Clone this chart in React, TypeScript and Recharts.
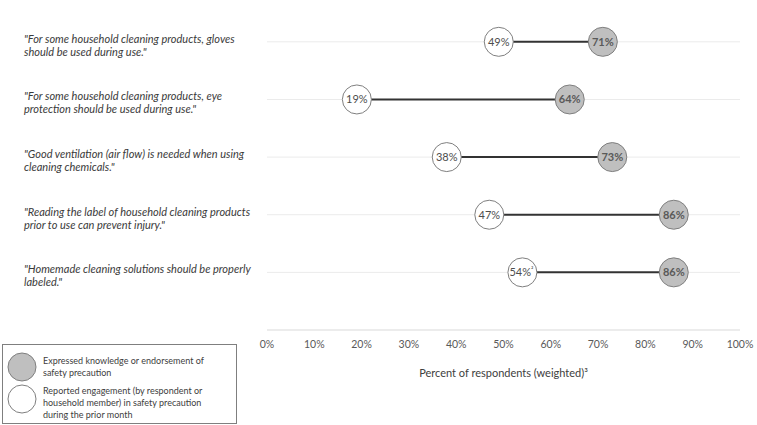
import { ComposedChart, Scatter, XAxis, YAxis } from 'recharts';

const statements = [
  ['"For some household cleaning products, gloves', 'should be used during use."'],
  ['"For some household cleaning products, eye', 'protection should be used during use."'],
  ['"Good ventilation (air flow) is needed when using', 'cleaning chemicals."'],
  ['"Reading the label of household cleaning products', 'prior to use can prevent injury."'],
  ['"Homemade cleaning solutions should be properly', 'labeled."'],
];
const knowledge = [71, 64, 73, 86, 86];
const engagement = [49, 19, 38, 47, 54];
const engagementNotes = ['', '', '', '', '²'];
const xTicks = [0, 10, 20, 30, 40, 50, 60, 70, 80, 90, 100];
const rowTicks = [0, 1, 2, 3, 4];

const FONT = 'Lato, "Open Sans", sans-serif';

const knowledgeData = knowledge.map((v, i) => ({ x: v, y: i, label: `${v}%`, note: '' }));
const engagementData = engagement.map((v, i) => ({ x: v, y: i, label: `${v}%`, note: engagementNotes[i] }));
const segments = engagement.map((v, i) => [
  { x: v, y: i },
  { x: knowledge[i], y: i },
]);
// light guide line across the full 0-100% range for each statement
const guides = rowTicks.map((i) => [
  { x: xTicks[0], y: i },
  { x: xTicks[xTicks.length - 1], y: i },
]);

const CategoryTick = ({ y, payload }: any) => {
  const lines = statements[payload.value] || [];
  return (
    <text x={24} y={y} fontFamily={FONT} fontSize={11} fontStyle="italic" fill="#3a3a3a">
      <tspan x={24} dy={1}>{lines[0]}</tspan>
      <tspan x={24} dy={13}>{lines[1]}</tspan>
    </text>
  );
};

const Dot = ({ cx, cy, payload, filled }: any) => (
  <g>
    <circle cx={cx} cy={cy} r={14.5} fill={filled ? '#bfbfbf' : '#ffffff'} stroke="#7f7f7f" strokeWidth={1} />
    <text
      x={payload.note ? cx - 1 : cx}
      y={cy + 4}
      textAnchor="middle"
      fontFamily={FONT}
      fontSize={11}
      fontWeight={filled ? 700 : 400}
      fill={filled ? '#595959' : '#4d4d4d'}
    >
      {payload.label}
      {payload.note ? <tspan fontSize={7} dy={-4}>{payload.note}</tspan> : null}
    </text>
  </g>
);

function LegendBox() {
  return (
    <div
      style={{
        position: 'absolute',
        left: 2,
        top: 344,
        width: 235,
        height: 80,
        border: '1px solid #7f7f7f',
        boxSizing: 'border-box',
        fontFamily: FONT,
        fontSize: 9,
        color: '#404040',
      }}
    >
      <svg width={40} height={78} style={{ position: 'absolute', left: 0, top: 0 }}>
        <circle cx={19} cy={22} r={14} fill="#bfbfbf" stroke="#7f7f7f" />
        <circle cx={19} cy={54} r={14} fill="#ffffff" stroke="#7f7f7f" />
      </svg>
      <div style={{ position: 'absolute', left: 40, top: 10, lineHeight: '12px' }}>
        Expressed knowledge or endorsement of
        <br />
        safety precaution
      </div>
      <div style={{ position: 'absolute', left: 40, top: 40, lineHeight: '12px' }}>
        Reported engagement (by respondent or
        <br />
        household member) in safety precaution
        <br />
        during the prior month
      </div>
    </div>
  );
}

export default function App() {
  return (
    <div style={{ position: 'absolute', left: 0, top: 0, width: 757, height: 425, background: '#fff' }}>
      <ComposedChart width={757} height={425} margin={{ top: 13, right: 17, bottom: 0, left: 0 }}>
        <XAxis
          type="number"
          dataKey="x"
          domain={[0, 100]}
          ticks={xTicks}
          interval={0}
          tickFormatter={(v) => `${v}%`}
          axisLine={{ stroke: '#d9d9d9' }}
          tickLine={false}
          tickMargin={5}
          height={95}
          tick={{ fontSize: 10.5, fill: '#595959', fontFamily: FONT }}
          label={{
            value: 'Percent of respondents (weighted)³',
            position: 'insideTop',
            offset: 39,
            fontSize: 11,
            fill: '#404040',
            fontFamily: FONT,
          }}
        />
        <YAxis
          type="number"
          dataKey="y"
          domain={[-0.5, 5]}
          reversed
          ticks={rowTicks}
          interval={0}
          width={267}
          axisLine={false}
          tickLine={false}
          tick={<CategoryTick />}
        />
        {guides.map((g, i) => (
          <Scatter
            key={`guide-${i}`}
            data={g}
            line={{ stroke: '#ebebeb', strokeWidth: 1 }}
            shape={() => <g />}
            isAnimationActive={false}
          />
        ))}
        {segments.map((seg, i) => (
          <Scatter
            key={`seg-${i}`}
            data={seg}
            line={{ stroke: '#333333', strokeWidth: 2 }}
            shape={() => <g />}
            isAnimationActive={false}
          />
        ))}
        <Scatter data={engagementData} shape={(p: any) => <Dot {...p} />} isAnimationActive={false} />
        <Scatter data={knowledgeData} shape={(p: any) => <Dot {...p} filled />} isAnimationActive={false} />
      </ComposedChart>
      <LegendBox />
    </div>
  );
}
